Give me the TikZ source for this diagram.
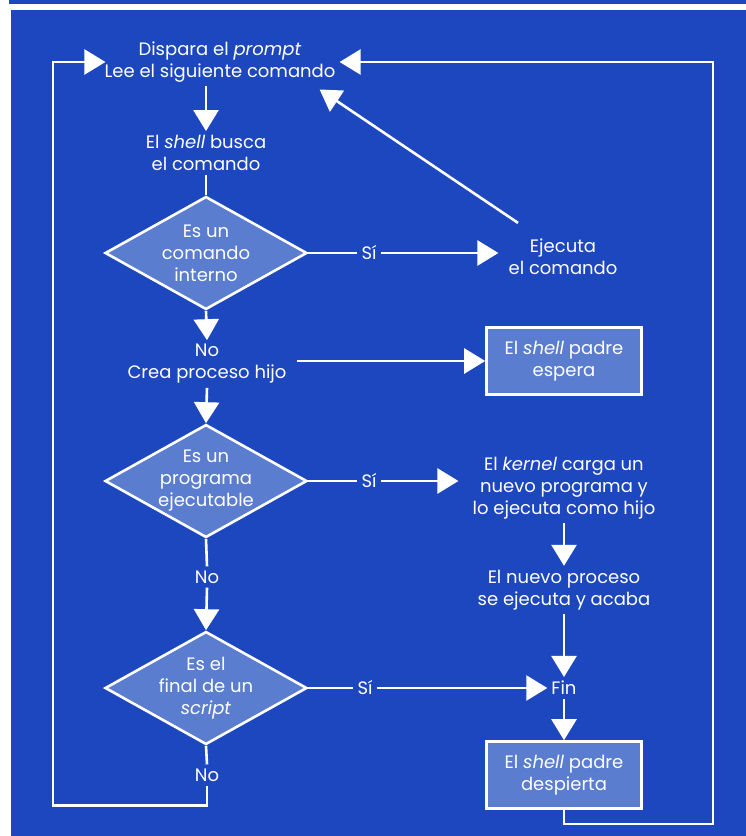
\documentclass[tikz,border=0pt]{standalone}
\usepackage{fontspec}
\setmainfont{Poppins}
\usetikzlibrary{arrows.meta,shapes.geometric,calc}
\definecolor{bgblue}{HTML}{1D47BF}
\definecolor{fillblue}{HTML}{5B7DCF}
\begin{document}
\begin{tikzpicture}[x=1pt,y=-1pt,
  txt/.style={text=white, align=center, font=\fontsize{18}{22}\selectfont, inner sep=4pt},
  dia/.style={diamond, draw=white, fill=fillblue, line width=2.6pt, inner sep=0pt, minimum width=202pt, minimum height=113pt},
  boxs/.style={rectangle, draw=white, fill=fillblue, line width=2.6pt, text=white, align=center, font=\fontsize{18}{22}\selectfont, minimum width=155pt, minimum height=67pt, inner sep=2pt},
  wline/.style={draw=white, line width=2.6pt},
  arr/.style={wline, -{Triangle[length=21pt,width=25pt]}}
]
\useasboundingbox (0,0) rectangle (746,836);
\fill[white] (0,0) rectangle (746,836);
\fill[bgblue] (9,0) rectangle (746,3.5);
\fill[bgblue] (11,10) rectangle (746,836);

\node[txt] (top) at (220,62) {Dispara el \textit{prompt}\\Lee el siguiente comando};
\node[txt] (busca) at (206,153) {El \textit{shell} busca\\el comando};
\node[dia] (d1) at (206,253) {};
\node[txt] at (d1) {Es un\\comando\\interno};
\node[txt] (si1) at (369,253) {Sí};
\node[txt] (ejec) at (563,257) {Ejecuta\\el comando};
\node[txt] (crea) at (207,364) {No\\Crea proceso hijo};
\node[boxs] (box1) at (564,361) {El \textit{shell} padre\\espera};
\node[dia] (d2) at (206,481) {};
\node[txt] at (d2) {Es un\\programa\\ejecutable};
\node[txt] (si2) at (369,481) {Sí};
\node[txt] (kern) at (564,488) {El \textit{kernel} carga un\\nuevo programa y\\lo ejecuta como hijo};
\node[txt] (nuevo) at (564,590) {El nuevo proceso\\se ejecuta y acaba};
\node[txt] (no2) at (207,577) {No};
\node[dia] (d3) at (206,688) {};
\node[txt] at (d3) {Es el\\final de un\\\textit{script}};
\node[txt] (si3) at (365,688) {Sí};
\node[txt] (fin) at (564,688) {Fin};
\node[boxs] (box2) at (564,775) {El \textit{shell} padre\\despierta};
\node[txt] (no3) at (207,775) {No};

% main column
\draw[arr] (top.south -| busca) -- (busca.north);
\draw[wline] (busca.south) -- (d1.north);
\draw[arr] (d1.south) -- (crea.north);
\draw[arr] (crea.south) -- (d2.north);
\draw[wline] (d2.south) -- (no2.north);
\draw[arr] (no2.south) -- (d3.north);
\draw[wline] (d3.south) -- (no3.north);
% right branches
\draw[wline] (d1.east) -- (si1.west);
\draw[arr, shorten >=6pt] (si1.east) -- (ejec.west |- si1.east);
\draw[arr] ([shift={(-45,-12)}]ejec.north) -- ([shift={(-20,3)}]top.south east);
\draw[arr, shorten <=6pt] (crea.east |- box1.west) -- (box1.west);
\draw[wline] (d2.east) -- (si2.west);
\draw[arr, shorten >=10pt] (si2.east) -- (kern.west |- si2.east);
\draw[arr] (kern.south) -- (nuevo.north);
\draw[arr] (nuevo.south) -- (fin.north);
\draw[wline] (d3.east) -- (si3.west);
\draw[arr] (si3.east) -- (fin.west |- si3.east);
\draw[arr] (fin.south) -- (box2.north);
% loops
\draw[arr] (box2.south) -- ++(0,14) -- ++(149,0) |- (top.east);
\draw[arr, shorten >=-5pt] (no3.south) -- ++(0,20) -- ++(-154,0) |- (top.west);
\end{tikzpicture}
\end{document}
